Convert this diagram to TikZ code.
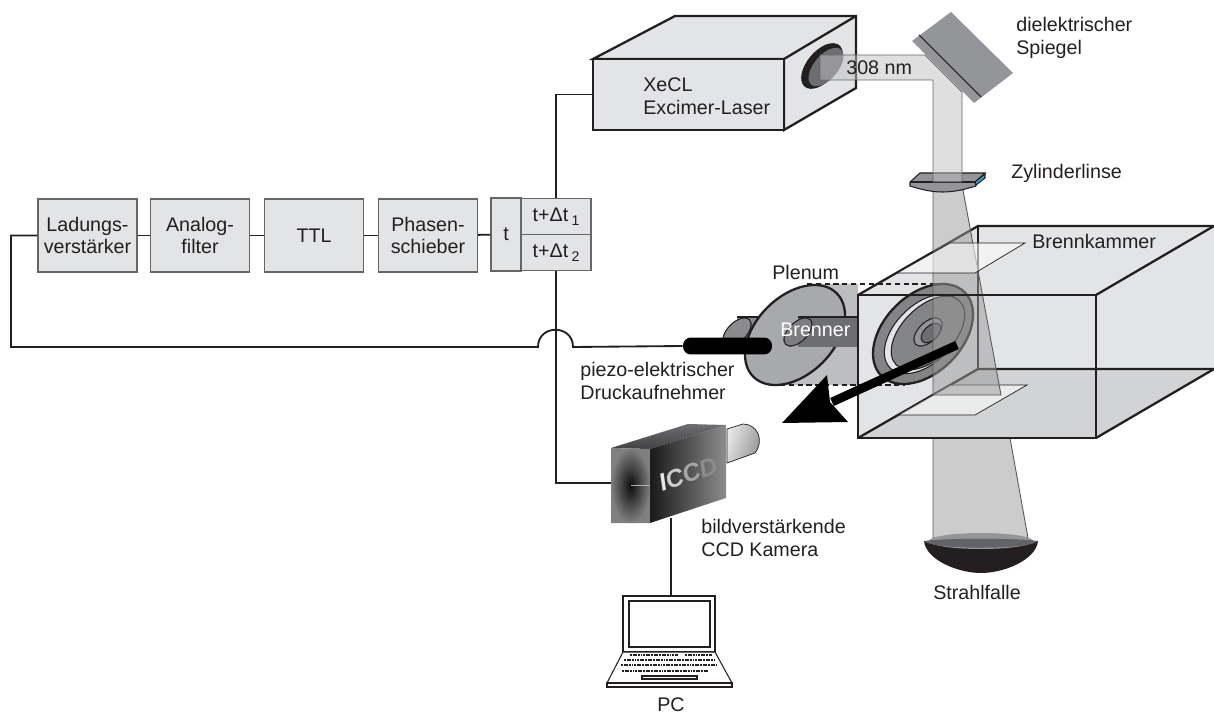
\documentclass[tikz,border=0pt]{standalone}
\usepackage{fontspec}
\usepackage{xcolor}
\usepackage{tikz}
\setmainfont{Liberation Sans}
\definecolor{ink}{HTML}{231F20}
\definecolor{wall}{HTML}{E3E4E6}
\definecolor{floorc}{HTML}{D1D3D4}
\definecolor{midg}{HTML}{939598}
\definecolor{darkg}{HTML}{6D6E71}
\definecolor{plen}{HTML}{BCBEC0}
\definecolor{discg}{HTML}{A7A9AC}
\definecolor{coat}{HTML}{27AAE1}
\tikzset{
  lab/.style={text=ink, inner sep=0pt, align=left, anchor=west, font=\fontsize{11.2}{13}\selectfont},
  blockbox/.style={draw=black!60, line width=0.7pt, fill=wall, inner sep=0pt, align=center,
    minimum width=1.98cm, minimum height=1.46cm, text=ink, font=\fontsize{11.2}{12.6}\selectfont},
  cellbox/.style={blockbox, minimum width=1.4cm, minimum height=0.73cm},
  wire/.style={draw=ink, line width=1.05pt},
  edge/.style={draw=ink, line width=1.3pt},
  thinedge/.style={draw=ink, line width=0.6pt},
  beamup/.style={fill=black!25, fill opacity=0.5, draw=black!60, line width=0.5pt},
  beamlow/.style={fill=black!40, fill opacity=0.5, draw=black!65, line width=0.5pt},
  sheet/.style={fill=white, fill opacity=0.55, draw=ink, line width=0.4pt},
  keyrow/.style={draw=ink, line width=1.5pt, dash pattern=on 1.1pt off 0.4pt}
}

\begin{document}
\begin{tikzpicture}[x=0.02cm,y=-0.02cm]
\useasboundingbox (0,0) rectangle (1214,716);

% signal chain
\node[blockbox] (lad) at (87.5,235.5) {Ladungs-\\verstärker};
\node[blockbox] (ana) at (200,235.5) {Analog-\\filter};
\node[blockbox] (ttl) at (314,235.5) {TTL};
\node[blockbox] (pha) at (428,235.5) {Phasen-\\schieber};
\node[blockbox, minimum width=0.6cm] (tcell) at (506,234.5) {t};
\node[cellbox] (tone) at (556,216.5) {t+Δt\,\raisebox{-2pt}{\fontsize{8}{8}\selectfont 1}};
\node[cellbox] (ttwo) at (556,252.5) {t+Δt\,\raisebox{-2pt}{\fontsize{8}{8}\selectfont 2}};
\draw[wire] (lad)--(ana);
\draw[wire] (ana)--(ttl);
\draw[wire] (ttl)--(pha);
\draw[wire] (pha)--(tcell);

% laser
\draw[edge, fill=wall] (593,59)--(675,16)--(856,16)--(856,88)--(784,130)--(784,59)--cycle;
\draw[edge] (784,59)--(856,16);
\node[draw=ink, line width=1.3pt, fill=wall, minimum width=3.82cm, minimum height=1.42cm, inner sep=0pt] (laser) at (688.5,94.5) {};
\node[lab] (lasertext) at (643,96.5) {XeCL\\Excimer-Laser};
\fill[ink] (822,66) ellipse [x radius=27, y radius=15, rotate=50];
\fill[darkg] (826,67) ellipse [x radius=23, y radius=12, rotate=50];

% camera and loop wires
\coordinate (loopcorner) at (11,347);
\coordinate (humpleft) at (538,347);
\coordinate (humpright) at (573,347);
\coordinate (camport) at (611,483);
\coordinate (camlow) at (671,518);
\coordinate (pctop) at (671,596);
\draw[wire] (tone.north) |- (laser.west);
\draw[wire] (ttwo.south) |- (camport);
\draw[wire] (camlow)--(pctop);

% plenum
\fill[plen] (807,284)--(858,284)--(858,385)--(780,385)--cycle;
\fill[darkg!80] (737,317) rectangle (775,347);
\draw[thinedge] (737,317)--(775,317);
\draw[thinedge, fill=darkg!80] (737,332) ellipse [x radius=17.5, y radius=9.5, rotate=45];
\draw[edge, fill=discg] (795,335) ellipse [x radius=59, y radius=39, rotate=45];
\fill[darkg] (798,317) rectangle (858,347);
\draw[thinedge] (798,317)--(858,317);
\draw[thinedge, fill=darkg!90] (798,332) ellipse [x radius=17.5, y radius=9.5, rotate=45];
\node[lab, text=white] (brenner) at (780,330) {Brenner};
\node[fill=black, minimum width=1.78cm, minimum height=0.34cm, rounded corners=4.5pt, inner sep=0pt] (piezo) at (727.5,346) {};
\draw[wire] (lad.west) -| (loopcorner) -- (humpleft) .. controls (538,324) and (573,324) .. (humpright) -- (piezo.west);

% chamber walls
\fill[wall] (858,295)--(978,226)--(1214,226)--(1214,369)--(1096,438)--(858,438)--cycle;
\fill[floorc] (858,438)--(978,369)--(1214,369)--(1096,438)--cycle;
\draw[edge] (858,295)--(978,226)--(1214,226);
\draw[edge] (978,226)--(978,369);
\draw[edge] (858,438)--(978,369)--(1214,369);

% burner seen through the window
\draw[edge, fill=darkg!85] (923,334) ellipse [x radius=59, y radius=39, rotate=45];
\draw[thinedge, fill=wall] (924,334) ellipse [x radius=48, y radius=29, rotate=45];
\draw[thinedge, fill=darkg!85] (928,333) ellipse [x radius=45, y radius=26, rotate=45];
\draw[thinedge, fill=midg] (928,332) ellipse [x radius=17.5, y radius=9.5, rotate=45];
\draw[thinedge, fill=darkg] (931,333) ellipse [x radius=12, y radius=7, rotate=45];
\draw[thinedge, densely dashed, line width=0.9pt] (807,284)--(942,284);
\draw[thinedge, densely dashed, line width=0.9pt] (780,385)--(905,385);

% light sheet
\draw[sheet] (898,415)--(975,415)--(1027,385)--(950,385)--cycle;
\draw[beamlow] (933,190)--(963,190)--(1001,395)--(933,395)--cycle;
\draw[sheet] (897,273)--(975,273)--(1025,243)--(950,243)--cycle;
\draw[beamlow] (933,438)--(1010,438)--(1028,538)--(933,538)--cycle;

% chamber front
\draw[edge] (858,295) rectangle (1096,438);
\draw[edge] (1096,295)--(1214,226);
\draw[edge] (1096,438)--(1214,369);

% optics
\draw[thinedge, fill=midg] (910,182)--(920,173)--(985,173)--(975,182)--(976,186) .. controls (950,194) and (935,194) .. (910,186)--cycle;
\draw[thinedge] (910,182)--(975,182);
\draw[thinedge, fill=coat] (975,182)--(985,174)--(985,178)--(976,185)--cycle;
\draw[beamup] (820,55)--(925,55)--(962,92)--(962,182)--(933,182)--(933,80)--(820,80)--cycle;
\fill[midg] (951,12)--(1013,73)--(974,103)--(912,41)--cycle;
\draw[thinedge] (919,35)--(981,97);

% beam dump
\fill[ink] (924,541) .. controls (926,560) and (958,573) .. (981,573) .. controls (1004,573) and (1036,560) .. (1038,541)--cycle;
\fill[midg] (981,541) ellipse [x radius=52, y radius=8];
\path[fill=darkg!90!black] (924,541) .. controls (945,538) and (1017,538) .. (1038,541) .. controls (1030,550) and (932,550) .. (924,541)--cycle;

% view direction
\draw[line width=5pt, black] (957,345)--(832,402);
\fill[black] (782,423)--(827,375)--(830,402)--(848,422)--cycle;

% camera
\shade[top color=darkg, bottom color=darkg!60!black] (611,448)--(688,424)--(726,425)--(650,449)--cycle;
\shade[inner color=black!95, outer color=black!50] (611,448)--(650,449)--(650,523)--(611,523)--cycle;
\shade[left color=black!90, right color=black!45] (650,449)--(726,425)--(726,498)--(650,523)--cycle;
\shade[left color=black!10, right color=black!45, shading angle=70, draw=ink, line width=0.4pt]
  (727,429)--(743,424) .. controls (757,424) and (765,440) .. (755,453)--(727,463)--cycle;
\draw[thinedge, line width=0.3pt] (650,449)--(650,523);
\draw[black!30, line width=0.4pt] (631,485)--(650,485);
\node[font=\fontsize{14}{14}\selectfont\bfseries\itshape, rotate=19, inner sep=0pt] (iccd) at (688,474)
  {\textcolor{black!10}{I}\textcolor{black!20}{C}\textcolor{black!35}{C}\textcolor{black!45}{D}};

% notebook
\draw[thinedge, fill=white] (623,596) rectangle (715,652);
\draw[thinedge] (629,601) rectangle (710,647);
\draw[thinedge, fill=white] (623,652)--(607,683)--(732,683)--(715,652)--cycle;
\draw[thinedge, fill=white] (607,683) rectangle (732,687);
\draw[keyrow] (630,655)--(678,655);
\draw[keyrow] (685,655)--(712,655);
\foreach \rowy/\rowa/\rowb in {660/624/715, 665/621/717, 671/622/708}{
  \draw[keyrow] (\rowa,\rowy)--(\rowb,\rowy);
}
\draw[thinedge] (642,676) rectangle (697,679);

% labels
\node[lab] (spiegel) at (1016,38) {dielektrischer\\Spiegel};
\node[lab] (linse) at (1011,173) {Zylinderlinse};
\node[lab] (kammer) at (1032,241) {Brennkammer};
\node[lab] (plenum) at (772,272) {Plenum};
\node[lab] (wellenl) at (846,68) {308 nm};
\node[lab] (druck) at (580,381) {piezo-elektrischer\\Druckaufnehmer};
\node[lab] (kamera) at (701,538) {bildverstärkende\\CCD Kamera};
\node[lab, anchor=center] (pc) at (671,705) {PC};
\node[lab, anchor=center] (falle) at (977,592) {Strahlfalle};
\end{tikzpicture}
\end{document}
